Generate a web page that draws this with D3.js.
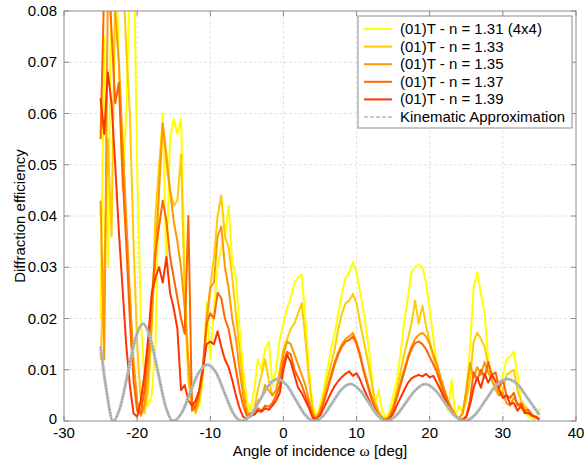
<!DOCTYPE html>
<html>
<head>
<meta charset="utf-8">
<script src="https://cdn.jsdelivr.net/npm/d3@7"></script>
<style>
  body { margin: 0; background: #fff; }
  svg { font-family: "Liberation Sans", Arial, sans-serif; }
</style>
</head>
<body>
<div id="chart"></div>
<script>
// angle grid for measured curves, -25 .. 35 deg, step 0.5
var angles = d3.range(0, 121).map(function(i){ return -25 + i * 0.5; });

var seriesNames = ["(01)T - n = 1.31 (4x4)", "(01)T - n = 1.33", "(01)T - n = 1.35", "(01)T - n = 1.37", "(01)T - n = 1.39"];
var seriesColors = ["#ffff00", "#ffcc00", "#ff9900", "#ff6600", "#ff3300"];

var n131 = [
  0.020, 0.075, 0.030, 0.090, 0.095, 0.070, 0.045, 0.060, 0.085, 0.095,
  0.050, 0.020, 0.008, 0.003, 0.005, 0.015, 0.048, 0.060, 0.030, 0.055,
  0.059, 0.056, 0.059, 0.030, 0.010, 0.004, 0.002, 0.003, 0.008, 0.023,
  0.012, 0.022, 0.030, 0.034, 0.036, 0.042, 0.031, 0.028, 0.018, 0.010,
  0.004, 0.002, 0.006, 0.012, 0.010, 0.014, 0.0155, 0.007, 0.010, 0.016,
  0.019, 0.022, 0.024, 0.027, 0.028, 0.0285, 0.020, 0.010, 0.003, 0.001,
  0.003, 0.006, 0.010, 0.014, 0.017, 0.021, 0.025, 0.028, 0.029, 0.031,
  0.029, 0.025, 0.021, 0.016, 0.010, 0.003, 0.006, 0.002, 0.0005, 0.002,
  0.005, 0.008, 0.013, 0.019, 0.024, 0.029, 0.030, 0.0305, 0.030, 0.027,
  0.022, 0.016, 0.011, 0.007, 0.004, 0.002, 0.008, 0.001, 0.003, 0.0015,
  0.006, 0.014, 0.026, 0.029, 0.025, 0.021, 0.012, 0.008, 0.006, 0.005,
  0.009, 0.012, 0.0125, 0.0135, 0.009, 0.004, 0.002, 0.0008, 0.0005, 0.0003,
  0.0025
];

var n133 = [
  0.012, 0.030, 0.055, 0.036, 0.085, 0.095, 0.090, 0.073, 0.060, 0.035,
  0.015, 0.004, 0.0015, 0.006, 0.018, 0.040, 0.050, 0.058, 0.050, 0.045,
  0.042, 0.043, 0.052, 0.025, 0.008, 0.003, 0.0015, 0.004, 0.010, 0.018,
  0.026, 0.032, 0.040, 0.044, 0.036, 0.034, 0.028, 0.021, 0.014, 0.007,
  0.0025, 0.001, 0.0025, 0.006, 0.009, 0.012, 0.008, 0.005, 0.006, 0.010,
  0.014, 0.016, 0.018, 0.019, 0.021, 0.023, 0.016, 0.008, 0.002, 0.0006,
  0.002, 0.005, 0.008, 0.011, 0.014, 0.018, 0.021, 0.023, 0.0235, 0.0248,
  0.023, 0.019, 0.0155, 0.012, 0.008, 0.004, 0.002, 0.0008, 0.0003, 0.0012,
  0.003, 0.006, 0.0095, 0.013, 0.016, 0.019, 0.0235, 0.019, 0.0225, 0.0185,
  0.0155, 0.0125, 0.0095, 0.007, 0.0045, 0.003, 0.0015, 0.0008, 0.0005, 0.0015,
  0.004, 0.008, 0.0155, 0.0172, 0.016, 0.0145, 0.011, 0.008, 0.006, 0.005,
  0.006, 0.009, 0.0095, 0.010, 0.006, 0.004, 0.003, 0.002, 0.001, 0.0008,
  0.0003
];

var n135 = [
  0.043, 0.012, 0.085, 0.090, 0.080, 0.070, 0.055, 0.040, 0.025, 0.012,
  0.004, 0.001, 0.003, 0.010, 0.020, 0.032, 0.045, 0.058, 0.052, 0.045,
  0.039, 0.035, 0.030, 0.022, 0.012, 0.004, 0.002, 0.005, 0.010, 0.020,
  0.026, 0.027, 0.036, 0.038, 0.030, 0.026, 0.020, 0.016, 0.010, 0.005,
  0.0015, 0.001, 0.002, 0.004, 0.0045, 0.007, 0.006, 0.005, 0.006, 0.009,
  0.013, 0.0155, 0.015, 0.013, 0.011, 0.009, 0.007, 0.004, 0.0015, 0.0005,
  0.002, 0.004, 0.0065, 0.009, 0.0115, 0.0135, 0.015, 0.016, 0.0165, 0.0172,
  0.0155, 0.013, 0.010, 0.0075, 0.005, 0.003, 0.0015, 0.0006, 0.0002, 0.0008,
  0.0025, 0.005, 0.0075, 0.010, 0.0125, 0.0145, 0.016, 0.0168, 0.0172, 0.0165,
  0.015, 0.013, 0.011, 0.0085, 0.0062, 0.004, 0.0025, 0.0012, 0.0005, 0.0015,
  0.006, 0.0113, 0.0085, 0.0105, 0.009, 0.0115, 0.0095, 0.008, 0.0065, 0.005,
  0.0055, 0.0035, 0.003, 0.0045, 0.0035, 0.0025, 0.002, 0.0015, 0.001, 0.0007,
  0.0003
];

var n137 = [
  0.055, 0.085, 0.090, 0.076, 0.062, 0.066, 0.048, 0.035, 0.020, 0.008,
  0.002, 0.0015, 0.006, 0.014, 0.024, 0.033, 0.038, 0.043, 0.039, 0.032,
  0.028, 0.024, 0.020, 0.017, 0.040, 0.002, 0.003, 0.006, 0.011, 0.019,
  0.021, 0.020, 0.025, 0.024, 0.020, 0.018, 0.014, 0.010, 0.006, 0.003,
  0.001, 0.0008, 0.0015, 0.0025, 0.002, 0.003, 0.0028, 0.0035, 0.005, 0.007,
  0.0115, 0.0135, 0.013, 0.010, 0.0085, 0.007, 0.005, 0.003, 0.001, 0.0003,
  0.0015, 0.0035, 0.006, 0.0085, 0.011, 0.013, 0.0145, 0.0155, 0.0158, 0.0165,
  0.015, 0.0125, 0.0095, 0.007, 0.0045, 0.0025, 0.0012, 0.0005, 0.0002, 0.0006,
  0.0022, 0.0045, 0.007, 0.0095, 0.012, 0.014, 0.0152, 0.0155, 0.015, 0.014,
  0.0125, 0.011, 0.0095, 0.0075, 0.0055, 0.0035, 0.002, 0.001, 0.0004, 0.0003,
  0.001, 0.004, 0.0095, 0.008, 0.010, 0.0085, 0.0115, 0.009, 0.0095, 0.0065,
  0.008, 0.005, 0.0045, 0.0055, 0.003, 0.0035, 0.002, 0.0022, 0.0012, 0.0008,
  0.0004
];

var n139 = [
  0.063, 0.056, 0.068, 0.062, 0.050, 0.037, 0.026, 0.015, 0.007, 0.0015,
  0.0008, 0.004, 0.009, 0.016, 0.025, 0.028, 0.030, 0.027, 0.032, 0.025,
  0.022, 0.018, 0.006, 0.007, 0.004, 0.003, 0.004, 0.006, 0.010, 0.015,
  0.0155, 0.015, 0.0175, 0.0145, 0.012, 0.0105, 0.008, 0.005, 0.0025, 0.0008,
  0.0004, 0.0015, 0.0012, 0.002, 0.0018, 0.0025, 0.0022, 0.003, 0.004, 0.0055,
  0.010, 0.013, 0.0115, 0.009, 0.0065, 0.0055, 0.004, 0.0025, 0.0006, 0.0003,
  0.001, 0.0025, 0.004, 0.0055, 0.0068, 0.0078, 0.0086, 0.0092, 0.0097, 0.0088,
  0.0093, 0.008, 0.0062, 0.0047, 0.0032, 0.0018, 0.0009, 0.0004, 0.0001, 0.0004,
  0.0014, 0.003, 0.0045, 0.006, 0.0074, 0.0083, 0.0087, 0.009, 0.0087, 0.0092,
  0.0085, 0.0088, 0.0074, 0.006, 0.0044, 0.003, 0.0019, 0.001, 0.0004, 0.0002,
  0.0008, 0.003, 0.0065, 0.0085, 0.0065, 0.0092, 0.0075, 0.009, 0.0078, 0.006,
  0.0045, 0.005, 0.0033, 0.0035, 0.002, 0.003, 0.0015, 0.0016, 0.001, 0.0008,
  0.0003
];

var seriesValues = [n131, n133, n135, n137, n139];

// kinematic approximation
var kinX = [-25.0, -24.2, -23.3, -22.3, -21.25, -20.2, -19.2, -18.2, -17.15, -16.1, -15.1,
            -13.9, -12.75, -11.6, -10.4, -9.2, -8.05, -6.9, -5.7,
            -4.45, -3.2, -2.0, -0.8, 0.45, 1.7, 2.95, 4.2,
            5.45, 6.7, 7.9, 9.15, 10.4, 11.65, 12.9, 14.1,
            15.4, 16.75, 18.1, 19.4, 20.7, 22.05, 23.4, 24.7,
            26.2, 27.65, 29.1, 30.6, 32.1, 33.55, 35.0];
var kinY = [0.0145, 0.006, 0.0, 0.0028, 0.0095, 0.0162, 0.019, 0.0162, 0.0095, 0.0028, 0.0,
            0.0016, 0.0055, 0.0094, 0.011, 0.0094, 0.0055, 0.0016, 0.0,
            0.0012, 0.0041, 0.007, 0.0082, 0.007, 0.0041, 0.0012, 0.0,
            0.00105, 0.0036, 0.0061, 0.0072, 0.0061, 0.0036, 0.00105, 0.0,
            0.00105, 0.0036, 0.0061, 0.0072, 0.0061, 0.0036, 0.00105, 0.0,
            0.0012, 0.0041, 0.007, 0.0082, 0.007, 0.0041, 0.0012];

var xTicks = [-30, -20, -10, 0, 10, 20, 30, 40];
var yTicks = [0, 0.01, 0.02, 0.03, 0.04, 0.05, 0.06, 0.07, 0.08];

var W = 585, H = 463;
var margin = {top: 11, right: 9, bottom: 42, left: 64};
var width = W - margin.left - margin.right,
    height = H - margin.top - margin.bottom;

var svg = d3.select("#chart").append("svg")
    .attr("width", W)
    .attr("height", H);

var g = svg.append("g")
    .attr("transform", "translate(" + margin.left + "," + margin.top + ")");

var x = d3.scaleLinear().domain([-30, 40]).range([0, width]);
var y = d3.scaleLinear().domain([0, 0.08]).range([height, 0]);

g.append("clipPath").attr("id", "clip")
  .append("rect").attr("width", width).attr("height", height);

// grid
g.append("g").selectAll("line.gx")
  .data(xTicks.slice(1, -1)).enter().append("line")
    .attr("x1", function(d){ return x(d); }).attr("x2", function(d){ return x(d); })
    .attr("y1", 0).attr("y2", height)
    .attr("stroke", "#e2e2e2").attr("stroke-dasharray", "3,2");
g.append("g").selectAll("line.gy")
  .data(yTicks.slice(1, -1)).enter().append("line")
    .attr("x1", 0).attr("x2", width)
    .attr("y1", function(d){ return y(d); }).attr("y2", function(d){ return y(d); })
    .attr("stroke", "#e2e2e2").attr("stroke-dasharray", "3,2");

// data lines
var plot = g.append("g").attr("clip-path", "url(#clip)");

var line = d3.line()
    .x(function(d){ return x(d[0]); })
    .y(function(d){ return y(d[1]); });

seriesValues.forEach(function(vals, k){
  plot.append("path")
    .datum(angles.map(function(a, i){ return [a, vals[i]]; }))
    .attr("d", line)
    .attr("fill", "none")
    .attr("stroke", seriesColors[k])
    .attr("stroke-width", 2)
    .attr("stroke-linejoin", "round");
});

var kinLine = d3.line()
    .curve(d3.curveMonotoneX)
    .x(function(d){ return x(d[0]); })
    .y(function(d){ return y(d[1]); });
var kinData = kinX.map(function(a, i){ return [a, kinY[i]]; });

plot.append("path").datum(kinData)
  .attr("d", kinLine).attr("fill", "none")
  .attr("stroke", "#b6bebe").attr("stroke-width", 3);
plot.append("path").datum(kinData)
  .attr("d", kinLine).attr("fill", "none")
  .attr("stroke", "#566161").attr("stroke-width", 0.9)
  .attr("stroke-opacity", 0.75)
  .attr("stroke-dasharray", "1,2");

// axes box and ticks
var axisColor = "#8c8c8c";
g.append("rect").attr("width", width).attr("height", height)
  .attr("fill", "none").attr("stroke", axisColor).attr("stroke-width", 1);

var tickLen = 5;
xTicks.forEach(function(t){
  g.append("line").attr("x1", x(t)).attr("x2", x(t))
    .attr("y1", height).attr("y2", height - tickLen).attr("stroke", axisColor);
  g.append("line").attr("x1", x(t)).attr("x2", x(t))
    .attr("y1", 0).attr("y2", tickLen).attr("stroke", axisColor);
  g.append("text").attr("x", x(t)).attr("y", height + 17)
    .attr("text-anchor", "middle").attr("font-size", 15).attr("fill", "#000")
    .text(t);
});
yTicks.forEach(function(t){
  g.append("line").attr("x1", 0).attr("x2", tickLen)
    .attr("y1", y(t)).attr("y2", y(t)).attr("stroke", axisColor);
  g.append("line").attr("x1", width).attr("x2", width - tickLen)
    .attr("y1", y(t)).attr("y2", y(t)).attr("stroke", axisColor);
  g.append("text").attr("x", -7).attr("y", y(t) + (t === 0 ? 3 : 5))
    .attr("text-anchor", "end").attr("font-size", 15).attr("fill", "#000")
    .text(t === 0 ? "0" : d3.format(".2f")(t));
});

// axis labels
var xl = svg.append("text")
  .attr("x", margin.left + width / 2).attr("y", 455.5)
  .attr("text-anchor", "middle").attr("font-size", 15).attr("fill", "#000");
xl.append("tspan").text("Angle of incidence ");
xl.append("tspan").attr("font-family", "'Liberation Serif', 'DejaVu Serif', serif").attr("font-size", 15.5).text("\u03c9");
xl.append("tspan").text(" [deg]");

svg.append("text")
  .attr("transform", "translate(25," + (margin.top + height / 2) + ") rotate(-90)")
  .attr("text-anchor", "middle").attr("font-size", 15).attr("fill", "#000")
  .text("Diffraction efficiency");

// legend
var lg = svg.append("g").attr("transform", "translate(358,16)");
lg.append("rect").attr("width", 214).attr("height", 112)
  .attr("fill", "#fff").attr("stroke", axisColor);

var legendItems = seriesNames.map(function(n, i){ return {name: n, color: seriesColors[i]}; });
legendItems.push({name: "Kinematic Approximation", color: "#c4cccc", dash: true});

legendItems.forEach(function(d, i){
  var yy = 13 + i * 17.6;
  lg.append("line").attr("x1", 6).attr("x2", 34).attr("y1", yy).attr("y2", yy)
    .attr("stroke", d.color).attr("stroke-width", 2)
    .attr("stroke-dasharray", d.dash ? "4,2" : null);
  lg.append("text").attr("x", 42).attr("y", yy + 5)
    .attr("font-size", 15).attr("fill", "#000").text(d.name);
});
</script>
</body>
</html>
